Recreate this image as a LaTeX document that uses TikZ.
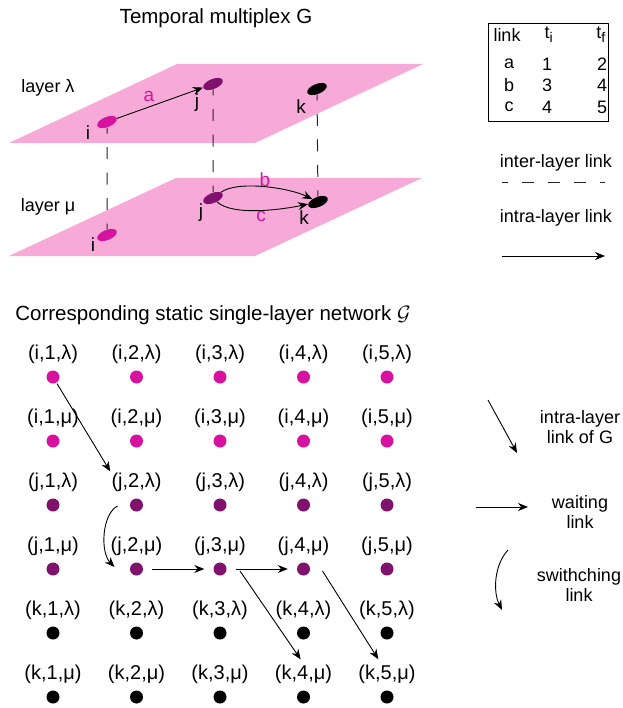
\documentclass[tikz,border=0pt]{standalone}
\usepackage{fontspec}
\setmainfont{Liberation Sans}
\usetikzlibrary{arrows.meta,shapes.geometric,calc}
\definecolor{planepink}{RGB}{247,170,216}
\definecolor{nodei}{RGB}{214,18,158}
\definecolor{nodej}{RGB}{128,18,110}

\begin{document}
\begin{tikzpicture}[x=1pt,y=-1pt,
    every node/.style={font=\fontsize{18}{20}\selectfont, inner sep=1pt},
    head/.style={font=\fontsize{20.5}{24}\selectfont},
    gridlab/.style={font=\fontsize{20}{24}\selectfont},
    plane/.style={fill=planepink},
    vtx/.style={ellipse, minimum width=21pt, minimum height=10pt, inner sep=0pt, rotate=22},
    dot/.style={circle, minimum size=13pt, inner sep=0pt},
    inter/.style={dash pattern=on 12pt off 13.5pt, dash phase=6pt, line width=1pt, black!85},
    intra/.style={-{Stealth[length=10pt,width=8pt]}, line width=0.9pt},
    twoline/.style={align=center}]
    \useasboundingbox (0,0) rectangle (622,708);

    % temporal multiplex
    \node[head] (title) at (216,18) {Temporal multiplex G};
    \fill[plane] (9,256) -- (176,178) -- (422,178) -- (255,256) -- cycle;
    \fill[plane] (9,143) -- (177,64) -- (423,64) -- (255,143) -- cycle;
    \node (lay-l) at (48,88) {layer λ};
    \node (lay-m) at (48,207) {layer μ};

    \node[vtx, fill=nodei] (ui) at (107,122) {};
    \node[vtx, fill=nodej] (uj) at (213,84) {};
    \node[vtx, fill=black] (uk) at (317,89) {};
    \node[vtx, fill=nodei] (li) at (107,235) {};
    \node[vtx, fill=nodej] (lj) at (213,198) {};
    \node[vtx, fill=black] (lk) at (318,202) {};
    \node[font=\fontsize{19}{20}\selectfont] (ui-lab) at (88,133) {i};
    \node[font=\fontsize{19}{20}\selectfont] (uj-lab) at (197,103) {j};
    \node[font=\fontsize{19}{20}\selectfont] (uk-lab) at (301,107) {k};
    \node[font=\fontsize{19}{20}\selectfont] (li-lab) at (93,245) {i};
    \node[font=\fontsize{19}{20}\selectfont] (lj-lab) at (201,213) {j};
    \node[font=\fontsize{19}{20}\selectfont] (lk-lab) at (304,218) {k};

    \draw[inter] (ui) -- (li);
    \draw[inter] (uj) -- (lj);
    \draw[inter] (uk) -- (lk);
    \draw[intra] (ui) -- (uj);
    \draw[intra] (lj) .. controls (238,180) and (290,188) .. (lk);
    \draw[intra] (lj) .. controls (232,216) and (280,210) .. (lk);
    \node[text=nodei, font=\fontsize{19}{20}\selectfont] (lab-a) at (149,96) {a};
    \node[text=nodei, font=\fontsize{19}{20}\selectfont] (lab-b) at (265,180) {b};
    \node[text=nodei, font=\fontsize{19}{20}\selectfont] (lab-c) at (261,216) {c};

    % table of links
    \node[draw, line width=0.9pt, minimum width=120pt, minimum height=98pt] (tab) at (548,72) {};
    \node (tab-h1) at (507,35) {link};
    \node (tab-h2) at (549,35) {t\textsubscript{\fontsize{14}{14}\selectfont i}};
    \node (tab-h3) at (601,35) {t\textsubscript{\fontsize{14}{14}\selectfont f}};
    \foreach \lk/\ti/\tf [count=\row] in {a/1/2, b/3/4, c/4/5}{
        \node (tab-\lk1) at (509,{64+21.5*(\row-1)}) {\lk};
        \node (tab-\lk2) at (547,{64+21.5*(\row-1)}) {\ti};
        \node (tab-\lk3) at (602,{64+21.5*(\row-1)}) {\tf};
    }

    % legend (top)
    \node (inter-txt) at (556,163) {inter-layer link};
    \coordinate (inter-a) at (502,183);
    \coordinate (inter-b) at (605,183);
    \draw[inter, dash pattern=on 12pt off 14pt] (inter-a) -- (inter-b);
    \node (intra-txt) at (556,218) {intra-layer link};
    \coordinate (intra-a) at (502,256);
    \coordinate (intra-b) at (605,256);
    \draw[intra] (intra-a) -- (intra-b);

    % static single-layer network
    \node[head] (title2) at (213,315) {Corresponding static single-layer network $\mathcal{G}$};
    \foreach \nd/\ly/\lc/\col [count=\row] in {i/λ/l/nodei, i/μ/m/nodei, j/λ/l/nodej, j/μ/m/nodej, k/λ/l/black, k/μ/m/black}{
        \foreach \tm in {1,...,5}{
            \node[dot, fill=\col] (d-\nd\tm\lc) at ({53+83.5*(\tm-1)}, {377+64*(\row-1)}) {};
            \node[gridlab] (l-\nd\tm\lc) at ({53+83.5*(\tm-1)}, {354+64*(\row-1)}) {(\nd,\tm,\ly)};
        }
    }

    \draw[intra, shorten <=1pt] (d-i1l) -- (l-j2l.north west);
    \coordinate (sw-a) at ([xshift=-19pt,yshift=-1pt]d-j2l.center);
    \coordinate (sw-b) at ([xshift=-22pt,yshift=2pt]d-j2m.center);
    \draw[intra] (sw-a) .. controls (102,514) and (100,552) .. (sw-b);
    \draw[intra, shorten <=9pt, shorten >=9pt] (d-j2m) -- (d-j3m);
    \draw[intra, shorten <=9pt, shorten >=9pt] (d-j3m) -- (d-j4m);
    \draw[intra, shorten >=5pt] ([xshift=20pt,yshift=-2pt]d-j3m.center) -- (l-k4m.north);
    \draw[intra, shorten >=5pt] ([xshift=19pt,yshift=-2pt]d-j4m.center) -- ([xshift=-6pt]l-k5m.north);

    % legend (bottom)
    \coordinate (leg1-a) at (488,400);
    \coordinate (leg1-b) at (517,453);
    \draw[intra] (leg1-a) -- (leg1-b);
    \node[twoline] (leg1-txt) at (580,427) {intra-layer\\link of G};
    \coordinate (leg2-a) at (476,507);
    \coordinate (leg2-b) at (528,507);
    \draw[intra] (leg2-a) -- (leg2-b);
    \node[twoline] (leg2-txt) at (580,512) {waiting\\link};
    \coordinate (leg3-a) at (508,550);
    \coordinate (leg3-b) at (502,610);
    \draw[intra] (leg3-a) .. controls (494,565) and (493,592) .. (leg3-b);
    \node[twoline] (leg3-txt) at (579,585) {swithching\\link};
\end{tikzpicture}
\end{document}
